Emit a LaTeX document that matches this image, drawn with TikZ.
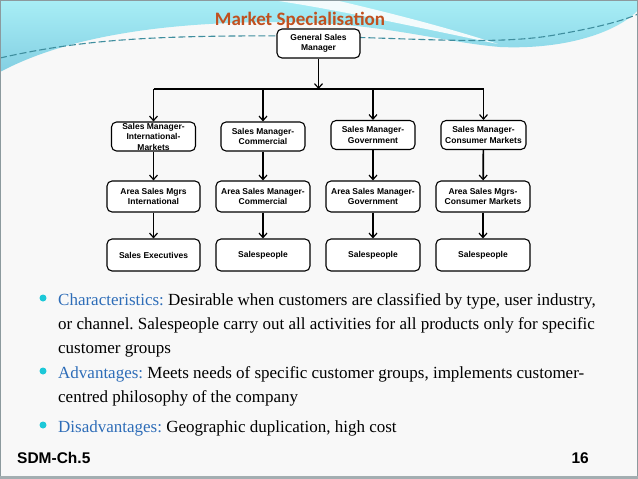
\documentclass[tikz,border=0pt]{standalone}
\usepackage{fontspec}
\setmainfont{Liberation Serif}
\newfontfamily\boxfont{Liberation Sans}
\newfontfamily\titlefont{Carlito}
\usetikzlibrary{arrows.meta}
\definecolor{bgc}{HTML}{F8F8F8}
\definecolor{framec}{HTML}{8C9A9E}
\definecolor{cyantop}{HTML}{A8EEF6}
\definecolor{cyanbot}{HTML}{84CFE2}
\definecolor{swoosh}{HTML}{F3FBFC}
\definecolor{dashc}{HTML}{3F8E9E}
\definecolor{titlec}{HTML}{C0501F}
\definecolor{labelc}{HTML}{2E6DB8}
\definecolor{bulletc}{HTML}{1CC8D8}
\tikzset{
  orgbox/.style={draw=black, line width=1.1pt, rounded corners=5pt, fill=white,
    align=center, inner sep=1pt, font=\boxfont\bfseries\fontsize{8.5}{10.5}\selectfont},
  conn/.style={draw=black, line width=1.7pt},
  arr/.style={conn, -{Straight Barb[length=4.5pt,width=8pt,line width=1.2pt]}},
  bodyline/.style={anchor=base west, inner sep=0pt, font=\frenchspacing\fontsize{17}{24}\selectfont},
  bul/.style={circle, fill=bulletc, inner sep=0pt, minimum size=7pt},
  foot/.style={inner sep=0pt, font=\boxfont\bfseries\fontsize{15.5}{18}\selectfont},
}
\begin{document}
\begin{tikzpicture}[x=1pt,y=-1pt]
\useasboundingbox (0,0) rectangle (638,479);
% background
\fill[bgc] (0,0) rectangle (638,479);
% header waves
\shade[top color=cyantop, bottom color=cyanbot]
  (0,0) -- (0,72) .. controls (60,40) and (150,22) .. (280,22)
  .. controls (380,22) and (440,42) .. (500,47)
  .. controls (570,50) and (620,30) .. (638,10) -- (638,0) -- cycle;
\fill[swoosh] (272,0) .. controls (340,10) and (420,28) .. (498,44)
  .. controls (430,22) and (360,6) .. (335,0) -- cycle;
\draw[dashc, line width=1.1pt, dash pattern=on 7pt off 3pt]
  (0,58) .. controls (80,40) and (150,35) .. (300,36)
  .. controls (420,38) and (500,46) .. (560,34)
  .. controls (600,27) and (625,20) .. (638,14);
% frame
\draw[framec, line width=1.4pt] (0.7,0.7) rectangle (637.3,478.3);
\draw[framec!80, line width=3pt] (0,477.5) -- (638,477.5);
% title
\node[anchor=base, inner sep=0pt, text=titlec, font=\titlefont\bfseries\fontsize{19}{22}\selectfont] (title) at (300,25) {Market Specialisation};
% org chart
\node[orgbox, minimum width=83pt, minimum height=29pt] (g) at (318.5,43.5) {General Sales\\Manager};
\node[orgbox, minimum width=84pt, minimum height=29pt] (a1) at (153.5,136.5) {};
\node[inner sep=0pt, align=center, font=\boxfont\bfseries\fontsize{8.5}{10.5}\selectfont] (a1t) at (a1) {Sales Manager-\\International-\\Markets};
\node[orgbox, minimum width=84pt, minimum height=29pt] (a2) at (263,136.5) {Sales Manager-\\Commercial};
\node[orgbox, minimum width=84pt, minimum height=29pt] (a3) at (373,135) {Sales Manager-\\Government};
\node[orgbox, minimum width=85pt, minimum height=29pt] (a4) at (483.5,135) {Sales Manager-\\Consumer Markets};
\node[orgbox, minimum width=93pt, minimum height=31pt] (b1) at (153.5,196.5) {Area Sales Mgrs\\International};
\node[orgbox, minimum width=94pt, minimum height=31pt] (b2) at (263,196.5) {Area Sales Manager-\\Commercial};
\node[orgbox, minimum width=94pt, minimum height=31pt] (b3) at (373,196.5) {Area Sales Manager-\\Government};
\node[orgbox, minimum width=94pt, minimum height=31pt] (b4) at (483,196.5) {Area Sales Mgrs-\\Consumer Markets};
\node[orgbox, minimum width=93pt, minimum height=32pt] (c1) at (153.5,255) {Sales Executives};
\node[orgbox, minimum width=94pt, minimum height=32pt] (c2) at (263,255) {Salespeople};
\node[orgbox, minimum width=94pt, minimum height=32pt] (c3) at (373,255) {Salespeople};
\node[orgbox, minimum width=94pt, minimum height=32pt] (c4) at (483,255) {Salespeople};
\coordinate (bus) at (318.5,89);
\draw[arr] (g) -- (bus);
\draw[conn] (bus -| a1) -- (bus -| a4);
\foreach \i in {1,2,3,4} {
  \draw[arr] (bus -| a\i) -- (a\i.north);
  \draw[arr] (a\i) -- (b\i);
  \draw[arr] (b\i) -- (c\i);
}
% bullets
\node[bul] (d1) at (43,298) {};
\node[bul] (d2) at (43,371) {};
\node[bul] (d3) at (43,425) {};
\node[bodyline] (l1) at (58,305) {\textcolor{labelc}{Characteristics:} Desirable when customers are classified by type, user industry,};
\node[bodyline] (l2) at (58,329) {or channel. Salespeople carry out all activities for all products only for specific};
\node[bodyline] (l3) at (58,353) {customer groups};
\node[bodyline] (l4) at (58,378) {\textcolor{labelc}{Advantages:} Meets needs of specific customer groups, implements customer-};
\node[bodyline] (l5) at (58,402) {centred philosophy of the company};
\node[bodyline] (l6) at (58,432) {\textcolor{labelc}{Disadvantages:} Geographic duplication, high cost};
% footer
\node[foot, anchor=base west] (sdm) at (17,463) {SDM-Ch.5};
\node[foot, anchor=base east] (pg) at (589,463) {16};
\end{tikzpicture}
\end{document}
